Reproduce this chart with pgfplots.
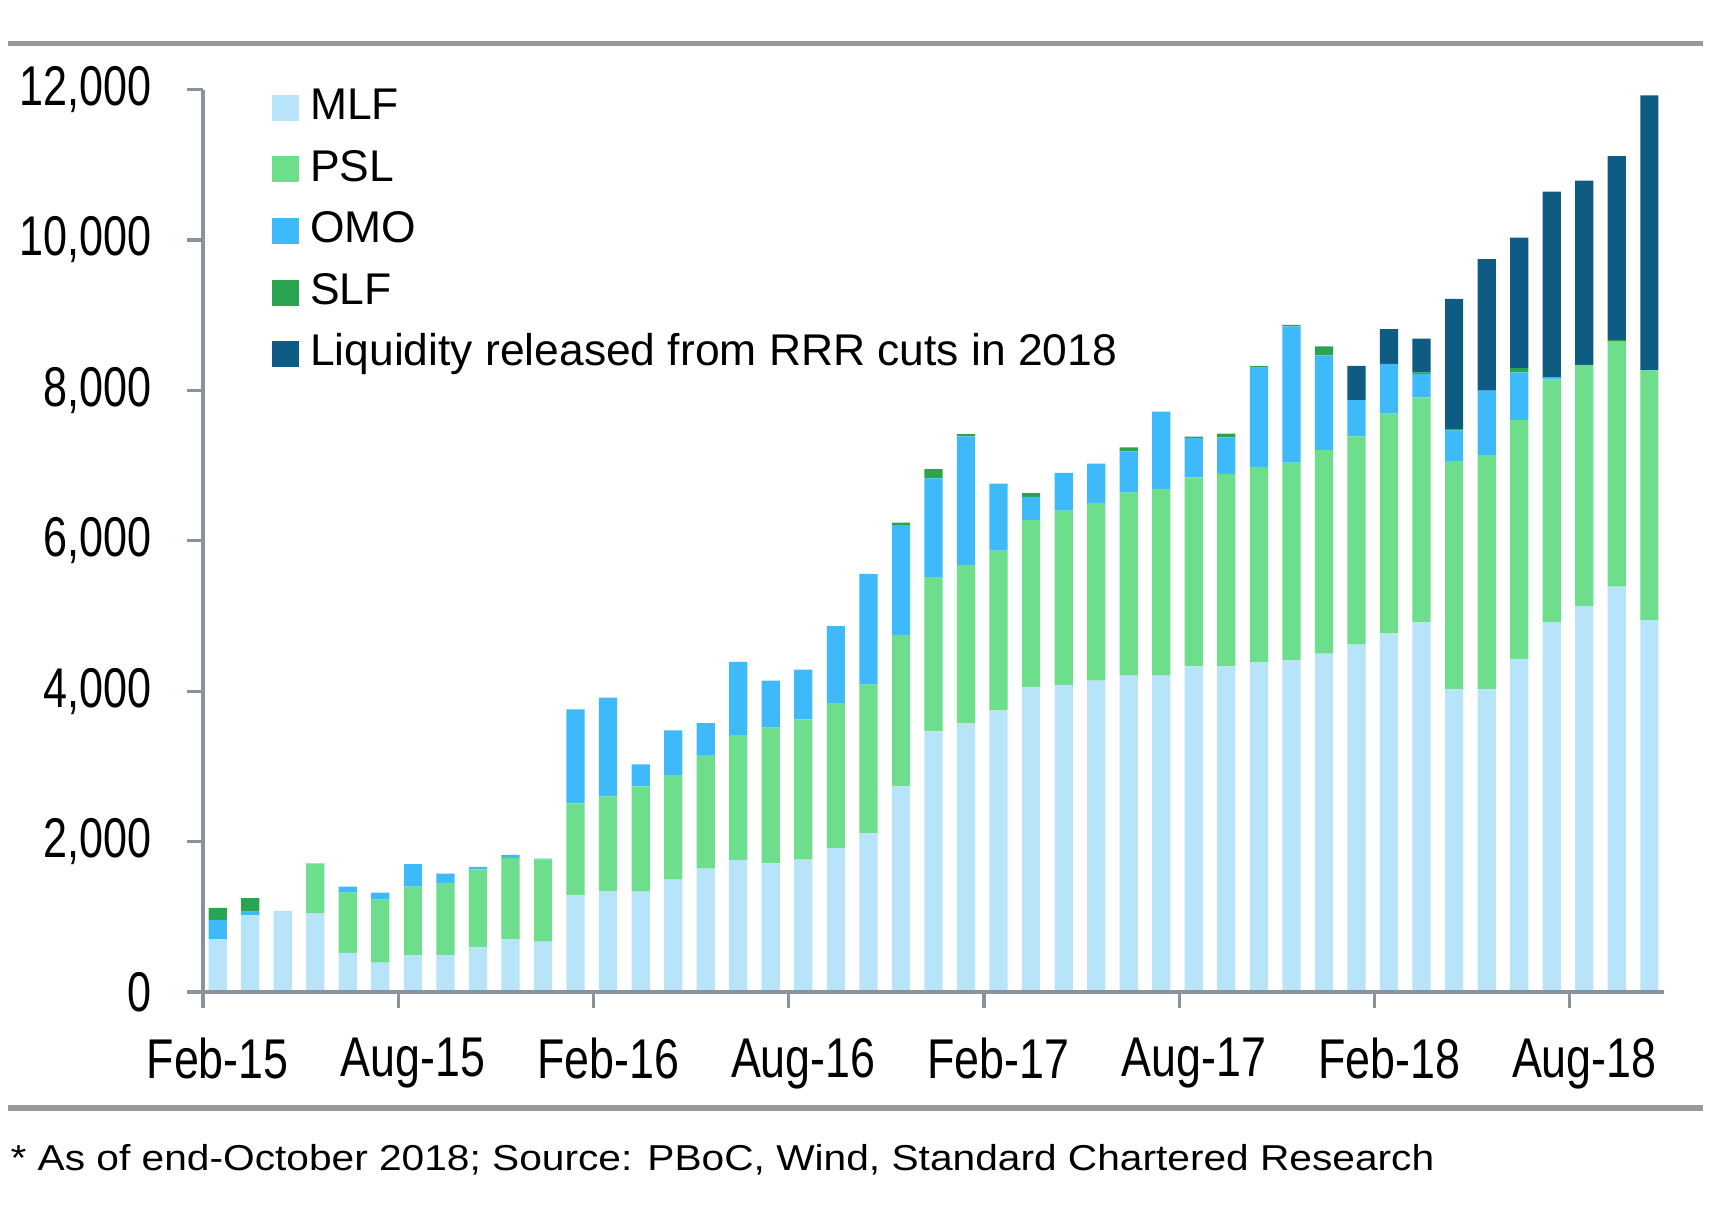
\documentclass[border=0pt]{standalone}
\usepackage{fontspec}
\setmainfont{Liberation Sans}
\newfontfamily\tickfont[FakeStretch=0.8]{Liberation Sans}
\newfontfamily\ytickfont[FakeStretch=0.77]{Liberation Sans}
\newfontfamily\notefont[FakeStretch=1.13]{Liberation Sans}
\usepackage{pgfplots}
\pgfplotsset{compat=1.18}
\usepackage{pgfplotstable}
\definecolor{cMLF}{HTML}{B8E4FA}
\definecolor{cPSL}{HTML}{6CDE8C}
\definecolor{cOMO}{HTML}{3EBAFA}
\definecolor{cSLF}{HTML}{2AA450}
\definecolor{cRRR}{HTML}{0E5C84}
\definecolor{axgray}{HTML}{8A929C}
\definecolor{rulegray}{HTML}{999999}
\pgfplotstableread{
x mlf psl omo slf rrr
0 700 0 260 160 0
1 1020 0 50 180 0
2 1080 0 0 0 0
3 1050 660 0 0 0
4 520 800 80 0 0
5 390 840 90 0 0
6 490 910 300 0 0
7 490 960 125 0 0
8 600 1030 35 0 0
9 700 1080 45 0 0
10 670 1095 10 0 0
11 1290 1220 1250 0 0
12 1340 1260 1315 0 0
13 1336 1400 290 0 0
14 1495 1390 595 0 0
15 1641 1510 425 0 0
16 1757 1660 972 0 0
17 1710 1805 625 0 0
18 1762 1865 660 0 0
19 1915 1925 1025 0 0
20 2109 1977 1473 0 0
21 2735 2014 1461 32 0
22 3465 2052 1314 121 0
23 3576 2104 1708 32 0
24 3745 2123 892 0 0
25 4055 2225 305 48 0
26 4085 2317 502 0 0
27 4141 2364 522 0 0
28 4207 2434 550 50 0
29 4207 2483 1029 0 0
30 4330 2513 521 20 0
31 4330 2556 490 50 0
32 4391 2593 1318 20 0
33 4410 2629 1814 20 0
34 4501 2709 1257 117 0
35 4618 2770 484 0 454
36 4772 2920 660 0 464
37 4915 2994 310 20 450
38 4023 3037 407 20 1731
39 4023 3118 855 0 1751
40 4430 3175 636 57 1734
41 4918 3224 34 0 2466
42 5130 3208 0 0 2452
43 5391 3257 0 20 2448
44 4943 3322 0 0 3657
}\data
\begin{document}
\begin{tikzpicture}
\path (-50.75pt,-53pt) rectangle (381.25pt,248pt);
\begin{axis}[
  at={(0pt,0pt)}, anchor=south west,
  scale only axis, width=365.25pt, height=225.6pt,
  xmin=-0.45, xmax=44.45, ymin=0, ymax=12000,
  ybar stacked, bar width=0.56,
  axis x line*=bottom, axis y line*=left,
  axis line style={axgray, line width=0.8pt},
  axis on top,
  tick align=outside, major tick length=3.9pt,
  tick style={axgray, line width=0.8pt},
  xtick={-0.45,5.55,...,41.55},
  xticklabels={Feb-15,Aug-15,Feb-16,Aug-16,Feb-17,Aug-17,Feb-18,Aug-18},
  ytick={0,2000,...,12000},
  scaled y ticks=false,
  /pgf/number format/1000 sep={,},
  /pgf/number format/assume math mode=true,
  xticklabel style={font=\tickfont\fontsize{14}{16}\selectfont, anchor=north, inner sep=0pt, xshift=3.66pt, yshift=-7.5pt},
  yticklabel style={font=\ytickfont\fontsize{14}{16}\selectfont, anchor=east, inner sep=0pt, xshift=-8.7pt},
  legend cell align=left,
  legend image code/.code={\fill[#1] (0pt,-3.25pt) rectangle (6.9pt,3.25pt);},
  legend style={at={(0.0471,1.002)}, anchor=north west, draw=none, fill=none,
    inner sep=0pt, outer sep=0pt, row sep=5.4pt, column sep=2.7pt,
    font=\fontsize{11.1}{12}\selectfont,
    nodes={inner sep=0pt, text height=7.9pt, text depth=2.1pt}},
]
\addplot[fill=cMLF, draw=none] table[x=x, y=mlf]{\data};
\addlegendentry{MLF}
\addplot[fill=cPSL, draw=none] table[x=x, y=psl]{\data};
\addlegendentry{PSL}
\addplot[fill=cOMO, draw=none] table[x=x, y=omo]{\data};
\addlegendentry{OMO}
\addplot[fill=cSLF, draw=none] table[x=x, y=slf]{\data};
\addlegendentry{SLF}
\addplot[fill=cRRR, draw=none] table[x=x, y=rrr]{\data};
\addlegendentry{Liquidity released from RRR cuts in 2018}
\end{axis}
\draw[rulegray, line width=1.2pt] (-48.7pt,237.1pt) -- (375pt,237.1pt);
\draw[rulegray, line width=1.3pt] (-48.7pt,-29pt) -- (375pt,-29pt);
\node[anchor=base west, inner sep=0pt, font=\notefont\fontsize{9}{11}\selectfont] at (-48.3pt,-44.5pt) {* As of end-October 2018; Source: PBoC, Wind, Standard Chartered Research};
\end{tikzpicture}
\end{document}
